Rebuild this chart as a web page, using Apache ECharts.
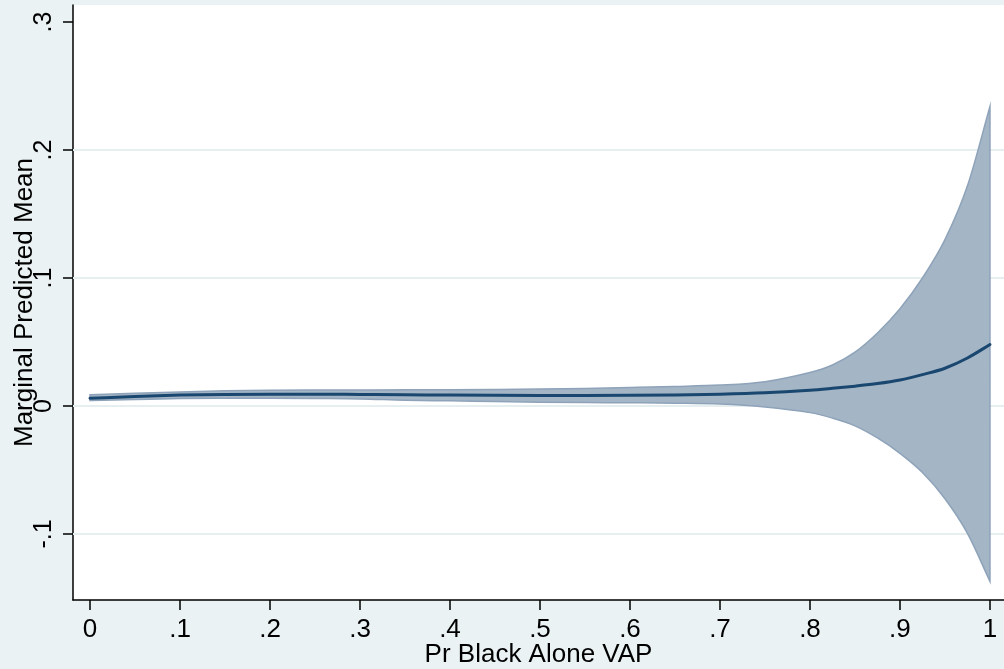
<!DOCTYPE html>
<html>
<head>
<meta charset="utf-8">
<script src="https://cdn.jsdelivr.net/npm/echarts@6/dist/echarts.min.js"></script>
<style>
html,body{margin:0;padding:0;background:#eaf2f3;}
#c{width:1004px;height:669px;}
</style>
</head>
<body>
<div id="c"></div>
<script>
var xValues = [0, 0.05, 0.1, 0.15, 0.2, 0.25, 0.3, 0.35, 0.4, 0.45, 0.5, 0.55, 0.6, 0.65, 0.7, 0.75, 0.8, 0.825, 0.85, 0.875, 0.9, 0.925, 0.95, 0.975, 1];
var meanValues = [0.006, 0.0075, 0.0085, 0.009, 0.0092, 0.0092, 0.009, 0.0088, 0.0085, 0.0083, 0.0082, 0.0082, 0.0083, 0.0086, 0.0092, 0.0103, 0.0123, 0.0138, 0.0155, 0.0175, 0.0203, 0.0245, 0.0295, 0.0375, 0.048];
var upperValues = [0.0088, 0.0100, 0.0110, 0.0118, 0.0122, 0.0124, 0.0125, 0.0126, 0.0127, 0.0129, 0.0132, 0.0137, 0.0144, 0.0152, 0.0163, 0.0190, 0.0262, 0.032, 0.042, 0.057, 0.076, 0.100, 0.130, 0.172, 0.234];
var lowerValues = [0.0042, 0.005, 0.0058, 0.006, 0.006, 0.0058, 0.0055, 0.0045, 0.0040, 0.0035, 0.003, 0.0027, 0.0025, 0.0022, 0.0015, -0.0008, -0.0052, -0.0095, -0.0155, -0.025, -0.037, -0.052, -0.0725, -0.0995, -0.137];

var xTickValues = [0, 0.1, 0.2, 0.3, 0.4, 0.5, 0.6, 0.7, 0.8, 0.9, 1];
var xTickLabels = ['0', '.1', '.2', '.3', '.4', '.5', '.6', '.7', '.8', '.9', '1'];
var yTickValues = [-0.1, 0, 0.1, 0.2, 0.3];
var yTickLabels = ['-.1', '0', '.1', '.2', '.3'];
var yGridValues = [-0.1, 0, 0.1, 0.2];

var xTitle = 'Pr Black Alone VAP';
var yTitle = 'Marginal Predicted Mean';

function lookup(vals, labels) {
  return function (v) {
    for (var i = 0; i < vals.length; i++) {
      if (Math.abs(vals[i] - v) < 1e-6) return labels[i];
    }
    return '';
  };
}

// Cubic Hermite (function of x) through pixel points -> SVG cubic segments
function hermitePath(pts, moveFirst) {
  var n = pts.length, m = [];
  for (var i = 0; i < n; i++) {
    var a = pts[Math.max(i - 1, 0)], b = pts[Math.min(i + 1, n - 1)];
    m.push((b[1] - a[1]) / (b[0] - a[0]));
  }
  var d = (moveFirst ? 'M' : 'L') + pts[0][0] + ',' + pts[0][1];
  for (var j = 0; j < n - 1; j++) {
    var p1 = pts[j], p2 = pts[j + 1], h = p2[0] - p1[0];
    d += ' C' + (p1[0] + h / 3) + ',' + (p1[1] + m[j] * h / 3) + ' ' +
         (p2[0] - h / 3) + ',' + (p2[1] - m[j + 1] * h / 3) + ' ' + p2[0] + ',' + p2[1];
  }
  return d;
}

var FONT = 'Liberation Sans, Arial, Helvetica, sans-serif';

var chart = echarts.init(document.getElementById('c'), null, {renderer: 'canvas'});
chart.setOption({
  backgroundColor: '#eaf2f3',
  animation: false,
  grid: {left: 73, top: 5, right: 0, bottom: 69, show: true, backgroundColor: '#ffffff', borderWidth: 0,
    containLabel: false, outerBoundsMode: 'none'},
  xAxis: {
    type: 'value', min: -0.0189, max: 1.0156,
    name: xTitle, nameLocation: 'middle', nameGap: 42, nameMoveOverlap: false,
    nameTextStyle: {fontSize: 26, color: '#000', fontFamily: FONT},
    axisLine: {show: true, onZero: false, lineStyle: {color: '#000', width: 1.5}},
    axisTick: {show: true, length: 10, lineStyle: {color: '#000', width: 1.5}, customValues: xTickValues},
    axisLabel: {fontSize: 26, color: '#000', fontFamily: FONT, margin: 17, customValues: xTickValues,
      formatter: lookup(xTickValues, xTickLabels)},
    splitLine: {show: false}
  },
  yAxis: {
    type: 'value', min: -0.1516, max: 0.3133,
    name: yTitle, nameLocation: 'middle', nameGap: 35, nameMoveOverlap: false,
    nameTextStyle: {fontSize: 26, color: '#000', fontFamily: FONT},
    axisLine: {show: true, onZero: false, lineStyle: {color: '#000', width: 1.5}},
    axisTick: {show: true, length: 10, lineStyle: {color: '#000', width: 1.5}, customValues: yTickValues},
    axisLabel: {fontSize: 25, color: '#000', fontFamily: FONT, margin: 16, rotate: 90, customValues: yTickValues,
      formatter: lookup(yTickValues, yTickLabels)},
    splitLine: {show: false}
  },
  series: [
    {
      name: 'grid', type: 'line', data: [], z: 1, silent: true,
      markLine: {
        silent: true, symbol: 'none', label: {show: false}, z: 1,
        lineStyle: {color: '#e6eef0', width: 2, type: 'solid'},
        data: yGridValues.map(function (v) { return {yAxis: v}; })
      }
    },
    {
      name: 'band', type: 'custom', z: 3, silent: true,
      data: [0],
      renderItem: function (params, api) {
        var up = xValues.map(function (x, i) { return api.coord([x, upperValues[i]]); });
        var lo = xValues.map(function (x, i) { return api.coord([x, lowerValues[i]]); }).reverse();
        var d = hermitePath(up, true) + ' ' + hermitePath(lo, false) + ' Z';
        return {
          type: 'path',
          shape: {pathData: d},
          style: {fill: '#a4b5c6', stroke: '#8ea3b9', lineWidth: 1.5}
        };
      }
    },
    {
      name: 'mean', type: 'custom', z: 4, silent: true,
      data: [0],
      renderItem: function (params, api) {
        var pts = xValues.map(function (x, i) { return api.coord([x, meanValues[i]]); });
        return {
          type: 'path',
          shape: {pathData: hermitePath(pts, true)},
          style: {fill: null, stroke: '#1a476f', lineWidth: 3, lineCap: 'round'}
        };
      }
    }
  ]
});
</script>
</body>
</html>
